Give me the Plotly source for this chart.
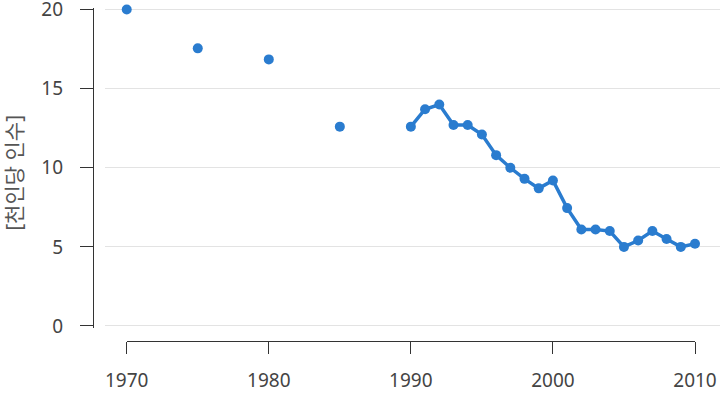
import plotly.graph_objects as go

# Data
years_early = [1970, 1975, 1980, 1985]
values_early = [20.0, 17.55, 16.85, 12.6]

years_late = [1990, 1991, 1992, 1993, 1994, 1995, 1996, 1997, 1998, 1999, 2000,
              2001, 2002, 2003, 2004, 2005, 2006, 2007, 2008, 2009, 2010]
values_late = [12.6, 13.7, 14.0, 12.7, 12.7, 12.1, 10.8, 10.0, 9.3, 8.7, 9.2,
               7.45, 6.1, 6.1, 6.0, 5.0, 5.4, 6.0, 5.5, 5.0, 5.2]

x_ticks = [1970, 1980, 1990, 2000, 2010]
y_ticks = [0, 5, 10, 15, 20]
y_title = "[천인당 인수]"

BLUE = "#2a7ccf"
FONT = "Noto Sans, Noto Sans CJK KR, sans-serif"

fig = go.Figure()
fig.add_trace(go.Scatter(
    x=years_early, y=values_early, mode="markers",
    marker=dict(color=BLUE, size=10), cliponaxis=False, showlegend=False))
fig.add_trace(go.Scatter(
    x=years_late, y=values_late, mode="lines+markers",
    line=dict(color=BLUE, width=3.5), marker=dict(color=BLUE, size=10),
    cliponaxis=False, showlegend=False))
# invisible trace to activate the R-style x axis (own subplot, no grid)
fig.add_trace(go.Scatter(x=x_ticks, y=[None] * len(x_ticks), xaxis="x2",
                         yaxis="y2", showlegend=False, hoverinfo="skip"))

# pixel layout targets
PX_UNIT = 15.8          # pixels per y unit
Y0_PX, XAX_PX = 326, 341
pad_u = 0.1             # small padding so edge gridlines are drawn
yrange = [-pad_u, 20 + pad_u]
top_px = Y0_PX - PX_UNIT * (20 + pad_u)
bot_px = Y0_PX + PX_UNIT * pad_u

L, R = 93, 4
T = top_px
B = 402 - XAX_PX
W = 724 - L - R
H = XAX_PX - T
ydom = [(XAX_PX - bot_px) / H, 1]

fig.update_layout(
    width=724, height=402,
    margin=dict(l=L, r=R, t=T, b=B, pad=0),
    plot_bgcolor="rgba(0,0,0,0)", paper_bgcolor="white",
    font=dict(family=FONT, color="#444", size=19),
    xaxis=dict(domain=[(105 - L) / W, 1], range=[1968.47, 2011.76],
               showgrid=False, zeroline=False, showline=False,
               showticklabels=False, ticks="", anchor="y", automargin=False),
    xaxis2=dict(domain=[(126.7 - L) / W, (695 - L) / W], range=[1970, 2010],
                tickvals=x_ticks, ticks="outside", ticklen=12, tickwidth=1.3,
                tickcolor="#333", showline=True, linecolor="#333", linewidth=1.3,
                showgrid=False, zeroline=False, anchor="free", position=0,
                ticklabelstandoff=10, ticklabeloverflow="allow", automargin=False,
                tickfont=dict(size=19, color="#444")),
    yaxis2=dict(domain=ydom, range=yrange, visible=False, anchor="x2",
                showgrid=False, zeroline=False),
    yaxis=dict(domain=ydom, range=yrange, tickvals=y_ticks,
               anchor="free", position=0, automargin=False,
               showgrid=True, gridcolor="#e3e3e3", gridwidth=1,
               zeroline=False, showline=True, linecolor="#333", linewidth=1.3,
               ticks="outside", ticklen=13, tickwidth=1.3, tickcolor="#333",
               ticklabelstandoff=13, ticklabeloverflow="allow",
               tickfont=dict(size=19, color="#444")),
    annotations=[dict(text=y_title, textangle=-90,
                      x=(14 - L) / W, xref="paper", xanchor="center",
                      y=(XAX_PX - 173) / H, yref="paper", yanchor="middle",
                      showarrow=False, borderpad=0,
                      font=dict(size=21, color="#555"))],
)

fig.write_html("out.html")
